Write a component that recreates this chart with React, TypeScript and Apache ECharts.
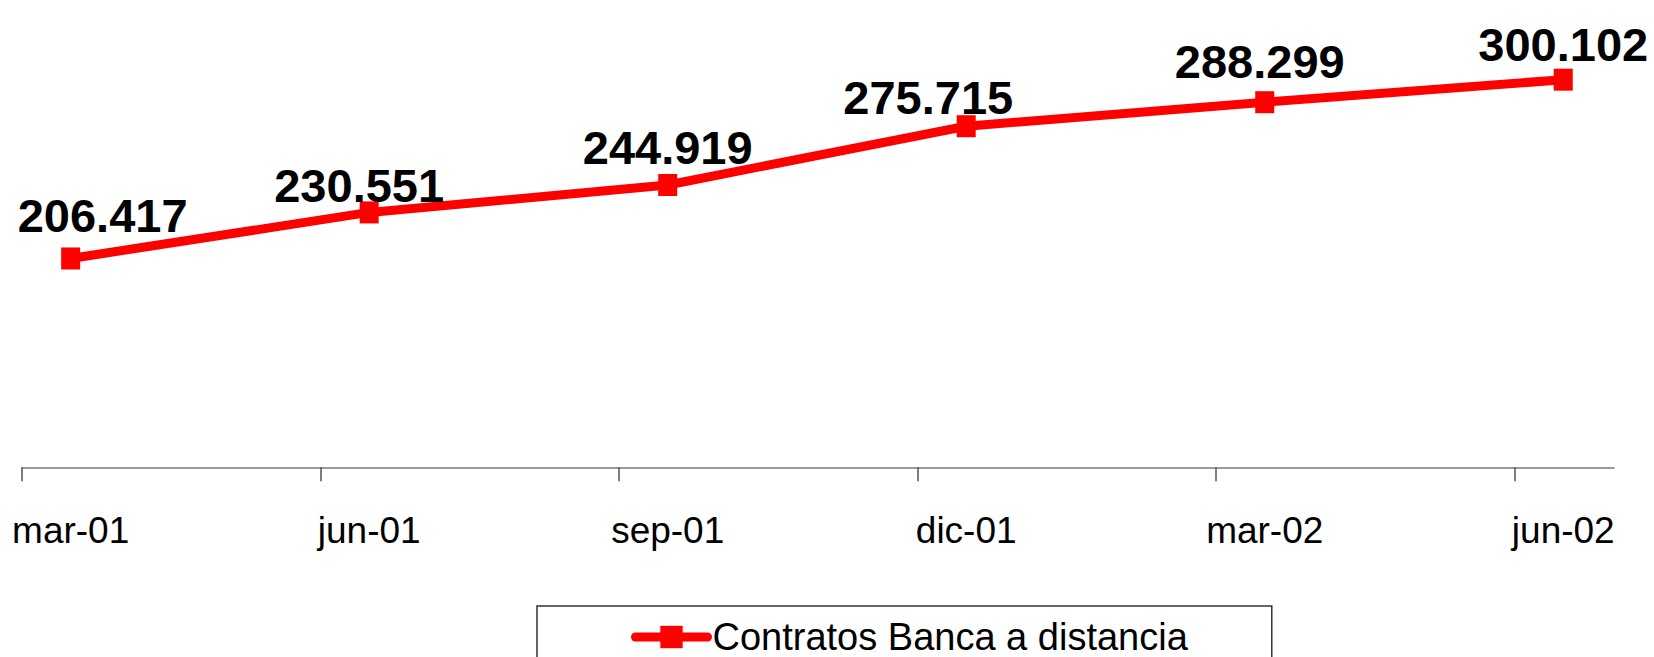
import React, { useEffect, useRef } from "react";
import * as echarts from "echarts";

const categories = ["mar-01", "jun-01", "sep-01", "dic-01", "mar-02", "jun-02"];
const values = [206.417, 230.551, 244.919, 275.715, 288.299, 300.102];
const seriesName = "Contratos Banca a distancia";
// label offsets (style only), per point: [dx, dy]
const labelOffsets = [
  [32, -8],
  [-10, 8],
  [0, -3],
  [-38, 6],
  [-5, -6],
  [0, -1],
];

const FONT = "'Liberation Sans', Arial, Helvetica, sans-serif";

export default function App() {
  const ref = useRef<HTMLDivElement>(null);
  useEffect(() => {
    if (!ref.current) return;
    const chart = echarts.init(ref.current, undefined, { renderer: "svg" });
    const xMin = -0.163;
    const xMax = 5.17;
    const tickVals = categories.map((_, i) => i + xMin);
    chart.setOption({
      animation: false,
      backgroundColor: "#ffffff",
      grid: { left: 22, right: 40, top: 41.7, bottom: 189.7, containLabel: false },
      xAxis: {
        type: "value",
        min: xMin,
        max: xMax,
        splitLine: { show: false },
        axisLine: { show: true, lineStyle: { color: "#777777", width: 1.5 } },
        axisTick: {
          show: true,
          length: 14,
          customValues: tickVals,
          lineStyle: { color: "#555555", width: 1.5 },
        },
        axisLabel: {
          show: true,
          customValues: categories.map((_, i) => i),
          formatter: (v: number) => categories[Math.round(v)] ?? "",
          fontFamily: FONT,
          fontSize: 37,
          color: "#000000",
          margin: 45,
        },
      },
      yAxis: {
        type: "value",
        min: 97,
        max: 320,
        show: false,
        splitLine: { show: false },
      },
      legend: {
        left: 537,
        top: 606,
        orient: "horizontal",
        padding: [12, 84, 40, 94],
        borderColor: "#333333",
        borderWidth: 1.5,
        borderRadius: 0,
        itemWidth: 72,
        itemHeight: 28,
        lineStyle: { width: 9, cap: "round", color: "#ff0000" },
        itemStyle: { color: "#ff0000" },
        textStyle: { fontFamily: FONT, fontSize: 38, color: "#000000" },
        data: [seriesName],
      },
      series: [
        {
          name: seriesName,
          type: "line",
          data: values.map((v, i) => ({
            value: [i, v],
            label: { offset: labelOffsets[i] },
          })),
          symbol: "rect",
          symbolSize: [19, 22],
          lineStyle: { color: "#ff0000", width: 9, cap: "round" },
          itemStyle: { color: "#ff0000" },
          label: {
            show: true,
            position: "top",
            distance: 0,
            formatter: (p: any) => values[p.dataIndex].toFixed(3),
            fontFamily: FONT,
            fontWeight: "bold",
            fontSize: 47,
            color: "#000000",
          },
        },
      ],
    });
    return () => chart.dispose();
  }, []);
  return (
    <div
      ref={ref}
      style={{ position: "fixed", left: 0, top: 0, width: 1654, height: 657 }}
    />
  );
}
